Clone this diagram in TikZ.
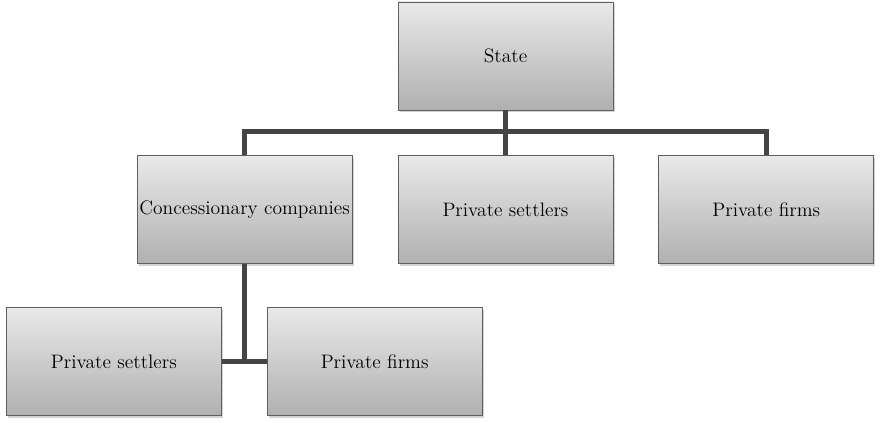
\documentclass[tikz,border=0pt]{standalone}
\usepackage{tikz}
\usetikzlibrary{positioning, shadows, calc}
\definecolor{boxtop}{RGB}{233,233,233}
\definecolor{boxbot}{RGB}{176,176,176}
\definecolor{boxline}{RGB}{95,95,95}
\definecolor{linkgray}{RGB}{68,68,68}
\tikzset{
  box/.style={draw=boxline, line width=0.6pt, top color=boxtop, bottom color=boxbot,
    minimum width=161.25pt, minimum height=81pt, inner sep=1pt, align=center,
    font=\fontsize{14.6}{17}\selectfont,
    drop shadow={opacity=0.35, shadow xshift=1.2pt, shadow yshift=-1.5pt}},
  link/.style={draw=linkgray, line width=3.6pt}
}
\begin{document}
\begin{tikzpicture}[x=0.75pt, y=0.75pt, node distance=33.75pt and 33.75pt]
\useasboundingbox (0,0) rectangle (880,423);
\node[box] (state) at (505.5,367) {State};
\node[box, below=of state] (settlers) {Private settlers};
\node[box, left=of settlers] (conc) {Concessionary companies};
\node[box, right=of settlers] (firms) {Private firms};
\node[box, below=of conc, xshift=97.5pt, yshift=1.5pt] (subfirms) {Private firms};
\node[box, left=of subfirms] (subsettlers) {Private settlers};
\coordinate (bus) at ($(state.south)!0.47!(settlers.north)$);
\coordinate (join) at (conc.south |- subsettlers.east);
\draw[link] (state.south) -- (settlers.north);
\draw[link] (conc.north) |- (bus) -| (firms.north);
\draw[link] (conc.south) -- (join);
\draw[link] (subsettlers.east) -- (subfirms.west);
\end{tikzpicture}
\end{document}
